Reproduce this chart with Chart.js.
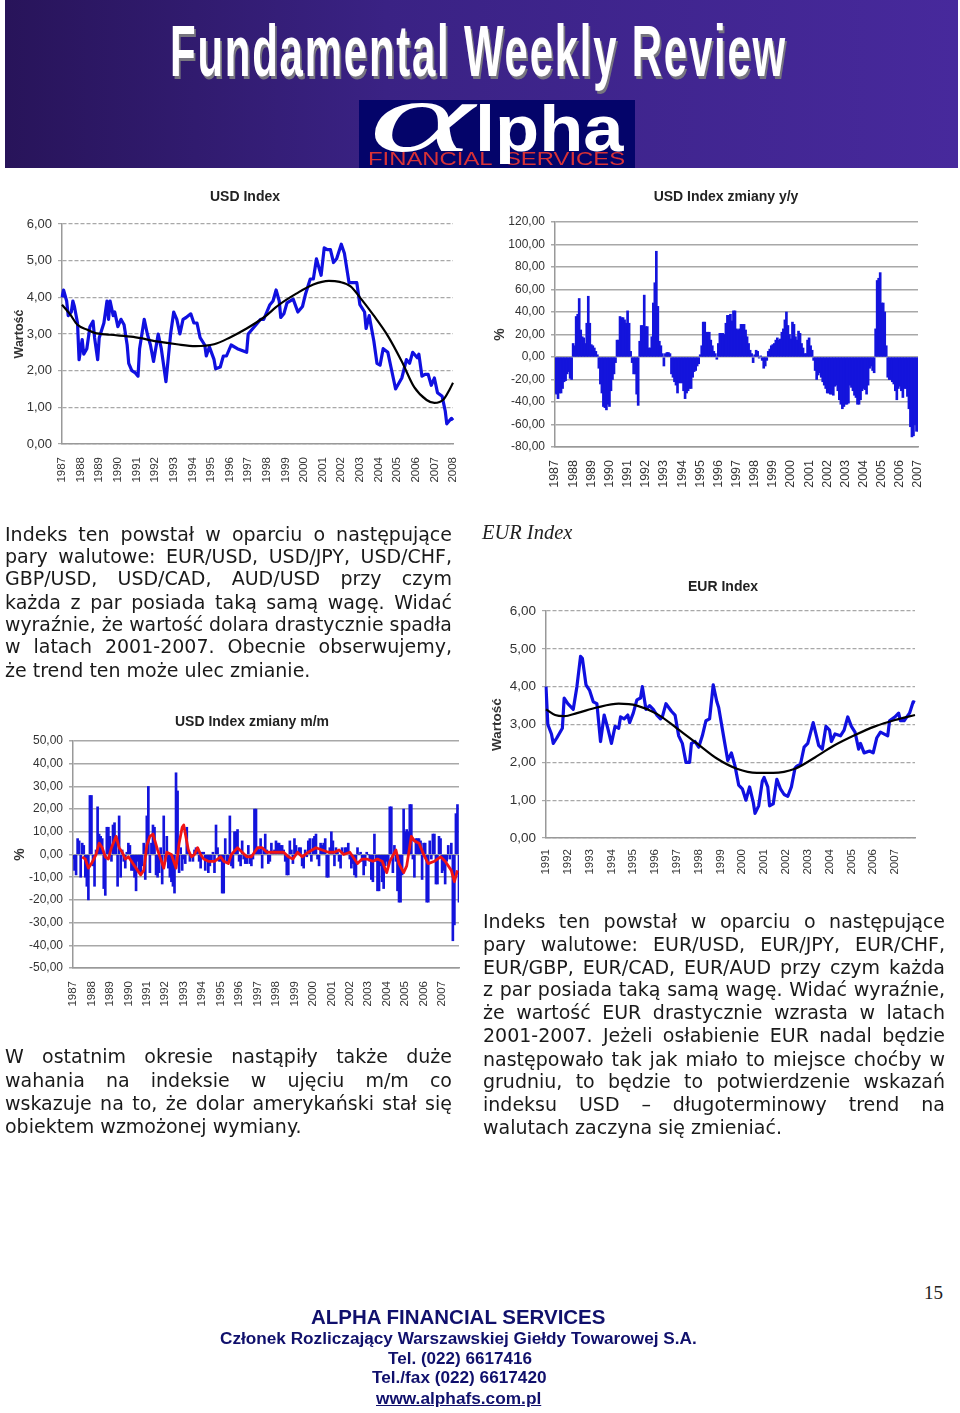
<!DOCTYPE html>
<html lang="pl">
<head>
<meta charset="utf-8">
<title>Fundamental Weekly Review</title>
<script src="https://cdn.jsdelivr.net/npm/chart.js@4/dist/chart.umd.min.js"></script>
<style>
	html, body { margin: 0; padding: 0; background: #fff; }
	body { position: relative; width: 960px; height: 1413px; overflow: hidden; }
	#band { position: absolute; left: 5px; top: 0; width: 953px; height: 168px; background: linear-gradient(90deg, #28145a 0%, #3a2284 40%, #47299c 100%); }
	#logo { position: absolute; left: 359px; top: 100px; width: 276px; height: 68px; background: #04046a; overflow: hidden; }
	.abs { position: absolute; white-space: nowrap; transform-origin: 0 0; }
	.chartbox { position: absolute; filter: blur(0.6px); }
	.chartbox canvas { display: block; }
	.para { position: absolute; font-family: "DejaVu Sans", sans-serif; font-size: 19px; line-height: 22px; color: #1a1a1a; white-space: nowrap; transform-origin: 0 0; filter: blur(0.25px); }
	.just { white-space: normal; text-align: justify; text-align-last: justify; }
</style>
</head>
<body>
<div id="band"></div>
<div id="logo"></div>
<div class="chartbox" id="box1"><canvas id="chartUsd"></canvas></div>
<div class="chartbox" id="box2"><canvas id="chartYoy"></canvas></div>
<div class="chartbox" id="box3"><canvas id="chartMom"></canvas></div>
<div class="chartbox" id="box4"><canvas id="chartEur"></canvas></div>

<script>
// USD Index, month number counted from Jan 1987
var usdMonths = [0,1,3,4,6,7,8,10,11,13,14,16,18,20,21,23,24,27,29,30,31,33,34,36,38,40,42,43,45,47,49,50,53,55,57,59,62,64,67,70,72,74,76,78,80,83,85,87,89,92,93,95,98,99,102,104,106,109,113,116,119,120,123,126,128,130,132,134,136,138,140,141,143,145,149,152,155,157,160,162,164,167,169,171,173,175,177,180,182,185,190,192,195,196,198,201,203,205,207,210,212,215,217,219,222,224,226,229,230,232,234,236,238,240,242,245,247,248,251,252];
var usdValues = [4.0,4.2,3.9,3.5,3.6,3.9,3.75,3.3,2.3,2.85,2.45,2.6,3.2,3.35,2.9,2.3,2.9,3.3,3.9,3.4,3.9,3.5,3.6,3.2,3.4,3.25,2.7,2.2,2.0,1.95,1.85,2.6,3.4,3.0,2.7,2.25,3.0,2.6,1.7,3.0,3.6,3.4,3.0,3.4,3.45,3.55,3.3,3.3,2.9,2.7,2.4,2.65,2.3,2.05,2.1,2.4,2.4,2.7,2.6,2.55,2.5,3.0,3.15,3.3,3.4,3.4,3.6,3.8,3.9,4.2,3.9,3.45,3.55,3.85,3.95,3.6,3.75,4.1,4.5,4.5,5.05,4.6,5.35,5.3,5.3,4.95,5.05,5.45,5.2,4.4,4.4,3.8,3.6,3.15,3.5,2.8,2.2,2.15,2.6,2.5,2.1,1.5,1.65,1.8,2.3,2.2,2.5,2.35,2.45,1.85,1.9,1.9,1.6,1.8,1.4,1.3,0.9,0.55,0.7,0.65];
var usdTrendMonths = [0,5,10,16,21,31,46,61,74,86,98,108,119,130,140,151,162,172,179,186,192,201,210,219,227,235,240,246,250,252];
var usdTrendValues = [3.8,3.55,3.25,3.12,3.03,2.98,2.92,2.8,2.72,2.67,2.72,2.9,3.15,3.45,3.8,4.1,4.35,4.45,4.42,4.3,4.0,3.5,2.95,2.25,1.55,1.2,1.12,1.22,1.5,1.67];

// USD Index y/y, one value a month from Jan 1987
var yoyValues = [-32,-33,-37,-32,-32,-28,-22,-21,-15,-13,-19,-20,12,10,36,38,52,24,18,17,12,30,54,30,
	11,10,8,5,2,-10,-24,-32,-44,-45,-47,-42,-44,-30,-20,-15,-5,15,15,36,35,35,33,30,
	41,30,5,-5,-15,-15,-33,-43,14,28,28,55,27,27,8,8,18,48,66,94,45,14,10,3,
	-8,3,4,4,3,-15,-18,-22,-25,-32,-23,-23,-23,-30,-37,-32,-30,-28,-28,-18,-13,-12,-8,-6,
	2,10,31,31,22,22,22,15,10,5,3,-2,12,21,21,21,20,30,37,37,38,32,41,41,
	25,24,25,29,29,29,24,18,12,6,3,-5,2,6,5,-1,1,-3,-10,-8,-3,5,7,10,
	11,12,15,17,15,16,22,25,33,40,28,20,16,31,29,18,15,23,21,12,8,3,3,15,
	17,10,6,-3,-12,-20,-16,-14,-18,-22,-25,-28,-32,-32,-33,-33,-34,-26,-25,-30,-38,-42,-46,-44,
	-42,-42,-41,-25,-27,-30,-34,-36,-42,-42,-38,-30,-28,-29,-33,-25,-10,-8,-12,-14,25,68,70,75,
	48,48,40,10,-18,-20,-20,-22,-24,-30,-38,-28,-26,-30,-36,-28,-28,-35,-46,-62,-71,-70,-60,-66,
	-66];

// USD Index m/m, one value a month from Jan 1987
var momValues = [-2,-7,-9,7,6,-10,5,4,-10,-14,-20,26,26,-5,-14,2,21,9,8,7,-15,-18,12,12,
	8,-3,13,14,8,-14,17,-10,2,-3,-6,1,5,4,-7,-7,-10,-16,-3,-8,-8,-5,5,-11,
	17,30,-8,5,13,12,-9,-10,-8,3,-13,17,-3,8,-6,-10,-12,-14,-17,36,28,-8,3,-7,
	-2,-4,12,2,-3,0,-3,2,3,2,-3,-6,1,1,-7,-2,-8,-5,-3,1,-8,13,3,-3,
	-3,-17,-17,7,-3,-3,17,-5,-6,10,10,11,-3,-5,6,-2,-4,-4,4,-4,-5,-2,20,20,
	3,2,7,-6,3,9,2,-4,-3,5,1,2,6,5,5,4,4,2,-3,-9,-9,6,2,-4,
	7,4,1,3,3,-5,-6,2,-1,6,7,-3,7,8,9,-2,-5,5,4,5,7,-10,-10,3,
	10,6,-5,3,1,-3,-6,3,1,3,3,5,-2,-6,-4,-9,-10,3,0,1,-3,-9,-5,1,
	0,-3,-11,-12,9,-3,-16,-16,-5,-12,-15,-5,-3,-5,21,21,-8,4,-3,-16,-21,-21,-9,20,
	10,11,10,22,22,-2,-10,7,7,7,6,-11,5,5,-21,-21,6,-2,9,9,-13,-13,8,7,
	-8,-7,-13,-3,4,-2,5,-38,-31,18,22,-21];
var momAvgMonths = [6,8,10,12,15,17,19,21,23,25,28,30,32,34,36,38,41,44,46,48,50,52,55,57,59,61,64,67,69,71,72,75,77,79,81,83,85,88,92,94,96,98,101,103,107,110,113,116,120,123,126,129,133,137,140,143,146,149,153,158,162,166,170,173,176,180,185,188,191,195,198,201,204,206,210,212,215,217,220,222,225,228,231,235,239,242,246,248,250];
var momAvgValues = [-1,-2,-6,-4,0,5,3,-1,-2,3,8,3,1,-2,-1,-3,-6,-9,-7,4,8,9,2,-2,-6,1,0,-6,5,12,13,2,-1,0,3,0,-2,-3,-3,-2,-1,-3,-4,0,3,1,-1,-1,3,3,1,1,1,1,-1,-2,1,-1,1,3,2,1,1,2,0,1,-4,-2,-2,-3,-2,-3,-8,-3,2,-4,-8,-5,8,6,5,0,-4,-3,-1,-3,-7,-12,-7];

// EUR Index, month number counted from Jan 1991
var eurMonths = [0,1,3,4,6,9,10,12,15,17,19,20,22,24,26,28,30,32,34,36,38,40,41,43,45,46,48,50,52,53,55,57,59,61,63,64,66,69,71,73,75,76,77,79,80,82,84,86,88,90,92,94,95,98,100,102,104,106,108,110,112,114,115,117,119,120,122,123,125,127,129,131,133,135,137,138,140,142,144,147,149,150,152,154,156,157,159,162,164,166,168,170,172,173,175,178,180,182,184,188,189,192,194,195,197,200,202,203];
var eurValues = [4.0,3.0,2.75,2.5,2.65,2.9,3.7,3.55,3.4,4.0,4.8,4.75,4.05,3.9,3.6,3.55,2.55,3.25,2.9,2.5,2.95,2.9,3.2,3.15,3.25,3.05,3.3,3.65,3.7,4.0,3.4,3.5,3.4,3.25,3.15,3.2,3.55,3.35,3.25,2.7,2.5,2.25,2.0,2.0,2.5,2.55,2.4,2.7,3.1,3.15,4.05,3.6,3.45,2.6,2.05,2.25,1.9,1.4,1.3,1.0,1.35,0.95,0.65,0.85,1.5,1.6,1.35,0.85,0.9,1.55,1.3,1.15,1.1,1.35,1.85,1.9,1.95,2.4,2.5,3.05,2.65,2.45,2.35,2.95,2.85,2.55,2.75,2.7,2.85,3.2,2.95,2.8,2.35,2.5,2.25,2.3,2.25,2.65,2.8,2.7,3.1,3.2,3.3,3.1,3.1,3.3,3.6,3.58];
var eurTrendMonths = [0,5,10,17,28,40,50,61,72,83,94,105,116,125,137,147,158,170,181,192,203];
var eurTrendValues = [3.4,3.25,3.22,3.3,3.45,3.55,3.5,3.28,2.9,2.5,2.1,1.83,1.72,1.72,1.83,2.1,2.43,2.72,2.95,3.12,3.25];

var usdYears = [1987, 253];
var yoyYears = [1987, 241];
var momYears = [1987, 252];
var eurYears = [1991, 204];

var textEn1 = ["Indeks ten powstał w oparciu o następujące", "pary walutowe: EUR/USD, USD/JPY, USD/CHF,", "GBP/USD, USD/CAD, AUD/USD przy czym", "każda z par posiada taką samą wagę. Widać", "wyraźnie, że wartość dolara drastycznie spadła", "w latach 2001-2007. Obecnie obserwujemy,", "że trend ten może ulec zmianie."];
var textTops1 = [523, 545, 567, 591, 613, 635, 659];
var textEn2 = ["W ostatnim okresie nastąpiły także duże", "wahania na indeksie w ujęciu m/m co", "wskazuje na to, że dolar amerykański stał się", "obiektem wzmożonej wymiany."];
var textTops2 = [1045, 1069, 1092, 1115];
var textEn3 = ["Indeks ten powstał w oparciu o następujące", "pary walutowe: EUR/USD, EUR/JPY, EUR/CHF,", "EUR/GBP, EUR/CAD, EUR/AUD przy czym każda", "z par posiada taką samą wagę. Widać wyraźnie,", "że wartość EUR drastycznie wzrasta w latach", "2001-2007. Jeżeli osłabienie EUR nadal będzie", "następowało tak jak miało to miejsce choćby w", "grudniu, to będzie to potwierdzenie wskazań", "indeksu USD – długoterminowy trend na", "walutach zaczyna się zmieniać."];
var textTops3 = [910, 933, 956, 978, 1001, 1024, 1048, 1070, 1093, 1116];

function monthLabels(spec) {
	var labels = [];
	for (var i = 0; i < spec[1]; i++) {
		var m = i % 12 + 1;
		labels.push((spec[0] + Math.floor(i / 12)) + "-" + (m < 10 ? "0" + m : m));
	}
	return labels;
}

function points(months, values, labels) {
	return months.map(function(m, i) {
		return { x: labels[m], y: values[i] };
	});
}

function lineSet(data, color, width, tension) {
	return { type: "line", data: data, borderColor: color, borderWidth: width, pointRadius: 0, tension: tension, borderJoinStyle: "round", cubicInterpolationMode: tension ? "monotone" : "default" };
}

function barSet(values, width) {
	return { type: "bar", data: values, backgroundColor: "#1414dc", barThickness: width, order: 2 };
}

// title is centered on the whole canvas, not on the padded area
var titleCenter = {
	id: "titleCenter",
	afterLayout: function(chart) {
		chart.titleBlock.left = 0;
		chart.titleBlock.right = chart.width;
	}
};

function makeChart(canvasId, box, plot, cfg) {
	var holder = document.getElementById(canvasId).parentNode;
	holder.style.left = box.left + "px";
	holder.style.top = box.top + "px";
	holder.style.width = box.width + "px";
	holder.style.height = box.height + "px";

	var titleLine = 16.8;
	return new Chart(document.getElementById(canvasId), {
		type: "bar",
		data: { labels: cfg.labels, datasets: cfg.datasets },
		plugins: [titleCenter],
		options: {
			responsive: true,
			maintainAspectRatio: false,
			animation: false,
			layout: { padding: { left: 0, right: box.left + box.width - plot.right, top: 0, bottom: 0 } },
			plugins: {
				legend: { display: false },
				tooltip: { enabled: false },
				title: {
					display: true,
					text: cfg.title,
					color: "#222",
					font: { family: "Liberation Sans", size: 14, weight: "bold", lineHeight: 1.2 },
					padding: { top: 0, bottom: plot.top - box.top - titleLine }
				}
			},
			scales: {
				x: {
					offset: false,
					grid: { display: false },
					border: { display: true, color: "#999", width: 1.5 },
					ticks: {
						autoSkip: false,
						minRotation: 90,
						maxRotation: 90,
						padding: cfg.xPad,
						color: "#333",
						font: { family: "Liberation Sans", size: cfg.xFont },
						callback: function(value) {
							var label = this.getLabelForValue(value);
							return label.slice(-2) === "01" ? label.slice(0, 4) : null;
						}
					},
					afterFit: function(scale) { scale.height = box.top + box.height - plot.bottom; }
				},
				y: {
					min: cfg.min,
					max: cfg.max,
					grid: { color: "#a8a8a8", lineWidth: cfg.gridWidth, tickLength: 4 },
					border: { display: true, color: "#999", width: 1.5, dash: cfg.dash },
					title: { display: true, text: cfg.yTitle, color: "#333", padding: 0, font: { family: "Liberation Sans", size: cfg.yTitleFont, weight: "bold" } },
					ticks: {
						stepSize: cfg.step,
						padding: 6,
						color: "#333",
						font: { family: "Liberation Sans", size: cfg.yFont },
						callback: function(value) { return value.toFixed(2).replace(".", ","); }
					},
					afterFit: function(scale) { scale.width = plot.left - box.left; }
				}
			}
		}
	});
}

var usdLabels = monthLabels(usdYears);
makeChart("chartUsd", { left: 12, top: 189, width: 466, height: 305 }, { left: 62, right: 453, top: 224, bottom: 444 }, {
	title: "USD Index", labels: usdLabels, min: 0, max: 6, step: 1, yFont: 13, xFont: 11.5, yTitle: "Wartość", yTitleFont: 12.5, dash: [4, 2], gridWidth: 1.2, xPad: 5,
	datasets: [
		lineSet(points(usdTrendMonths, usdTrendValues, usdLabels), "#000", 2.2, 0.4),
		lineSet(points(usdMonths, usdValues, usdLabels), "#1010e0", 3.2, 0)
	]
});

var yoyLabels = monthLabels(yoyYears);
makeChart("chartYoy", { left: 492, top: 189, width: 468, height: 305 }, { left: 555, right: 918, top: 222, bottom: 447 }, {
	title: "USD Index zmiany y/y", labels: yoyLabels, min: -80, max: 120, step: 20, yFont: 12, xFont: 12.5, yTitle: "%", yTitleFont: 14, gridWidth: 1.5, xPad: 5,
	datasets: [barSet(yoyValues, 2)]
});

var momLabels = monthLabels(momYears);
makeChart("chartMom", { left: 12, top: 714, width: 480, height: 300 }, { left: 73, right: 459, top: 741, bottom: 968 }, {
	title: "USD Index zmiany m/m", labels: momLabels, min: -50, max: 50, step: 10, yFont: 12, xFont: 11.5, yTitle: "%", yTitleFont: 14, gridWidth: 1.5, xPad: 5,
	datasets: [
		lineSet(points(momAvgMonths, momAvgValues, momLabels), "#f01414", 2.8, 0),
		barSet(momValues, 2)
	]
});

var eurLabels = monthLabels(eurYears);
makeChart("chartEur", { left: 489, top: 579, width: 468, height: 305 }, { left: 546, right: 915, top: 611, bottom: 838 }, {
	title: "EUR Index", labels: eurLabels, min: 0, max: 6, step: 1, yFont: 13.5, xFont: 11.5, yTitle: "Wartość", yTitleFont: 13.5, dash: [4, 2], gridWidth: 1.2, xPad: 3,
	datasets: [
		lineSet(points(eurTrendMonths, eurTrendValues, eurLabels), "#000", 2.2, 0.4),
		lineSet(points(eurMonths, eurValues, eurLabels), "#1010e0", 3.2, 0)
	]
});

// page text around the charts
function addText(parent, text, css, fitWidth) {
	var el = document.createElement("div");
	el.className = "abs";
	el.textContent = text;
	el.style.cssText = css;
	parent.appendChild(el);
	if (fitWidth) {
		el.style.transform = "scaleX(" + (fitWidth / el.offsetWidth) + ")";
	}
	return el;
}

function addPara(lines, tops, left, width, openEnd) {
	lines.forEach(function(line, i) {
		var el = document.createElement("div");
		el.className = "para";
		el.textContent = line;
		el.style.left = left + "px";
		el.style.top = tops[i] + "px";
		document.body.appendChild(el);
		var natural = el.offsetWidth;
		if (natural > width) {
			el.style.transform = "scaleX(" + (width / natural) + ")";
		} else if (!(i === lines.length - 1 && openEnd)) {
			el.className = "para just";
			el.style.width = width + "px";
		}
	});
}

addPara(textEn1, textTops1, 5, 447, true);
addPara(textEn2, textTops2, 5, 447, true);
addPara(textEn3, textTops3, 483, 462, true);

addText(document.body, "Fundamental Weekly Review", "left:170px;top:8px;font:bold 72px/86px 'Liberation Sans Narrow','Liberation Sans',sans-serif;letter-spacing:3px;color:#fff;text-shadow:3px 3px 0 #77757f;", 617);
var logo = document.getElementById("logo");
addText(logo, "α", "left:10px;top:-48px;font:italic 102px/130px 'Liberation Serif',serif;color:#fff;", 106);
addText(logo, "FINANCIAL SERVICES", "left:9px;top:49px;font:18px/20px 'Liberation Sans',sans-serif;word-spacing:5px;color:#d83236;", 257);
addText(logo, "lpha", "left:116px;top:-9px;font:bold 64px/76px 'Liberation Sans',sans-serif;color:#fff;", 149);

addText(document.body, "EUR Index", "left:482px;top:519px;font:italic 20px/26px 'Liberation Serif',serif;color:#222;", 90);
addText(document.body, "15", "left:924px;top:1282px;font:19px/22px 'Liberation Serif',serif;color:#222;");
addText(document.body, "ALPHA FINANCIAL SERVICES", "left:311px;top:1305px;font:bold 20px/24px 'Liberation Sans',sans-serif;color:#10106c;", 294);
addText(document.body, "Członek Rozliczający Warszawskiej Giełdy Towarowej S.A.", "left:220px;top:1329px;font:bold 16px/20px 'Liberation Sans',sans-serif;color:#10106c;", 477);
addText(document.body, "Tel. (022) 6617416", "left:388px;top:1349px;font:bold 16px/20px 'Liberation Sans',sans-serif;color:#10106c;", 144);
addText(document.body, "Tel./fax (022) 6617420", "left:372px;top:1368px;font:bold 16px/20px 'Liberation Sans',sans-serif;color:#10106c;", 174);
addText(document.body, "www.alphafs.com.pl", "left:376px;top:1389px;font:bold 16px/20px 'Liberation Sans',sans-serif;color:#10106c;text-decoration:underline;", 165);
</script>
</body>
</html>
